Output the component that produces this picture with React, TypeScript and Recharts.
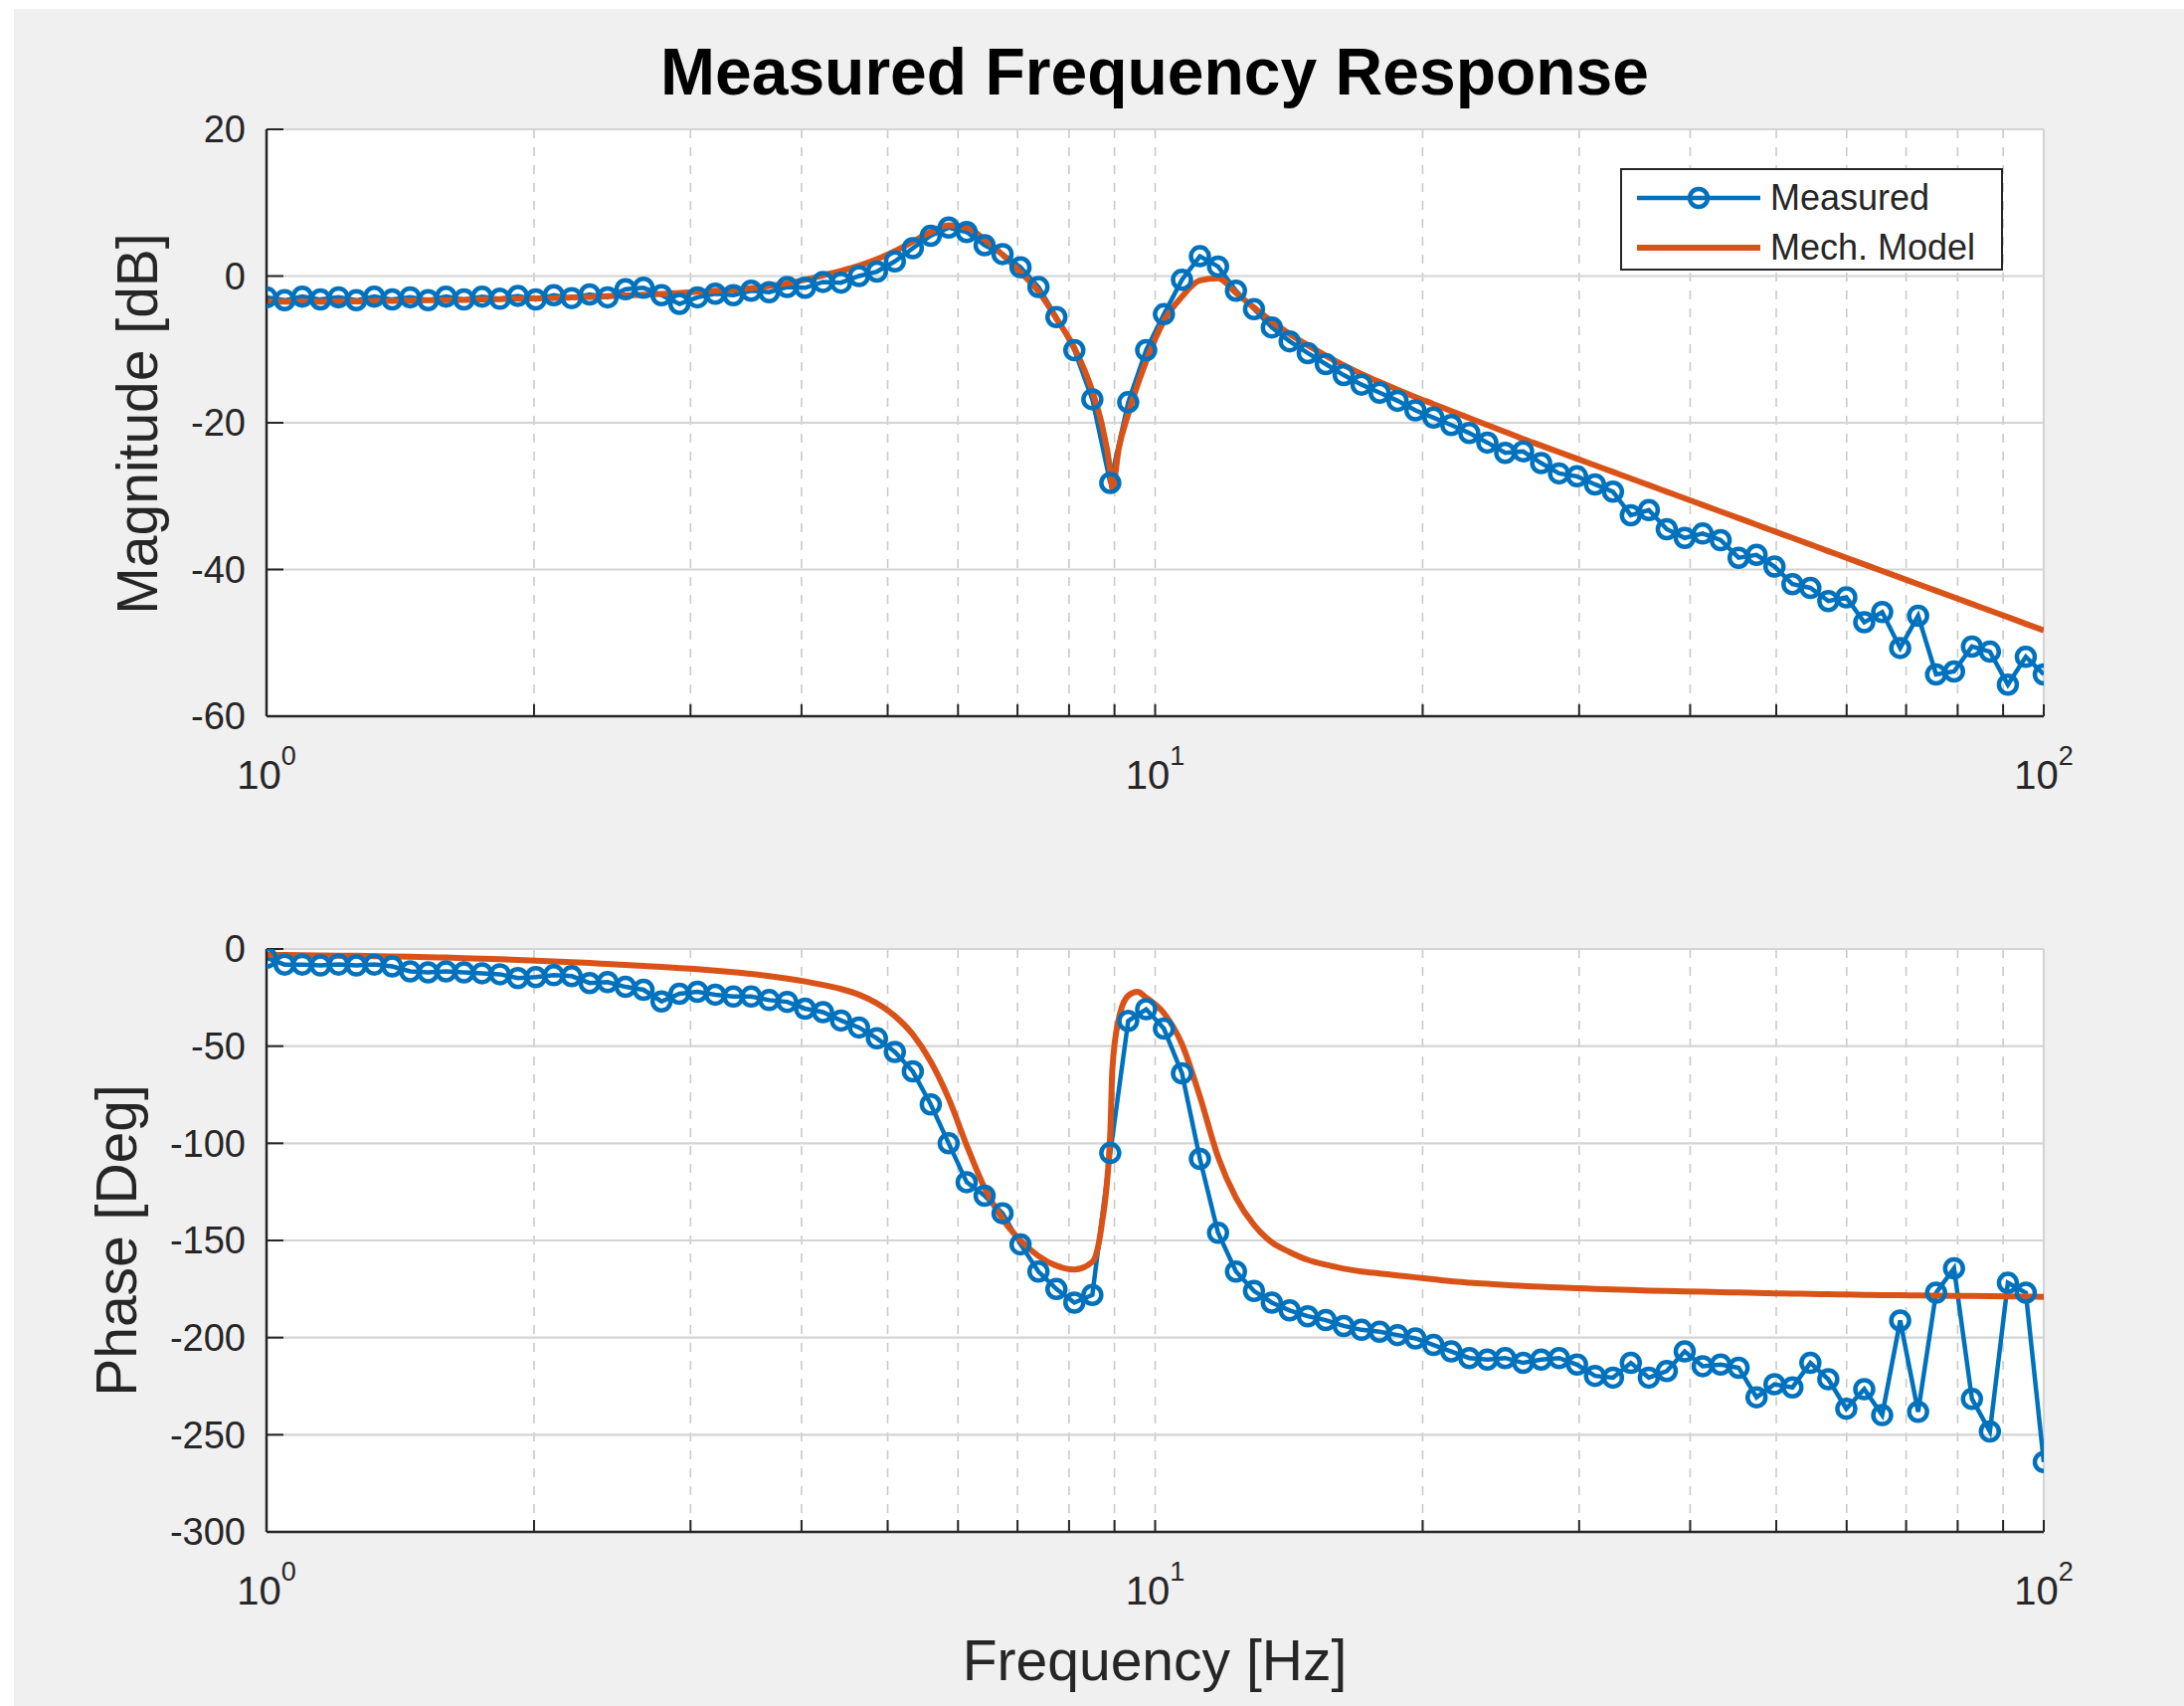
import { CartesianGrid, Legend, Line, LineChart, XAxis, YAxis } from 'recharts'

// measurement frequencies (Hz), 100 log-spaced points from 1 to 100
const freq = [
  1.0, 1.048, 1.097, 1.15, 1.205, 1.262, 1.322, 1.385, 1.451, 1.52,
  1.592, 1.668, 1.748, 1.831, 1.918, 2.009, 2.105, 2.205, 2.31, 2.42,
  2.535, 2.656, 2.783, 2.915, 3.054, 3.199, 3.352, 3.511, 3.678, 3.854,
  4.037, 4.229, 4.431, 4.642, 4.863, 5.094, 5.337, 5.591, 5.857, 6.136,
  6.428, 6.734, 7.055, 7.391, 7.743, 8.111, 8.498, 8.902, 9.326, 9.77,
  10.23, 10.72, 11.23, 11.77, 12.33, 12.92, 13.53, 14.17, 14.85, 15.56,
  16.3, 17.07, 17.89, 18.74, 19.63, 20.57, 21.54, 22.57, 23.65, 24.77,
  25.95, 27.19, 28.48, 29.84, 31.26, 32.75, 34.3, 35.94, 37.65, 39.44,
  41.32, 43.29, 45.35, 47.51, 49.77, 52.14, 54.62, 57.22, 59.95, 62.8,
  65.79, 68.93, 72.21, 75.65, 79.25, 83.02, 86.97, 91.12, 95.45, 100.0,
]

// measured magnitude (dB)
const magMeasured = [
  -2.9, -3.3, -2.8, -3.2, -2.9, -3.3, -2.8, -3.2, -2.9, -3.3,
  -2.8, -3.2, -2.8, -3.1, -2.7, -3.2, -2.6, -3.0, -2.5, -2.9,
  -1.8, -1.6, -2.6, -3.8, -2.9, -2.4, -2.6, -2.0, -2.2, -1.5,
  -1.6, -0.8, -0.9, 0.0, 0.6, 2.0, 3.8, 5.5, 6.6, 6.0,
  4.2, 3.0, 1.2, -1.5, -5.6, -10.1, -16.8, -28.2, -17.2, -10.1,
  -5.2, -0.5, 2.7, 1.3, -2.0, -4.5, -7.0, -8.9, -10.5, -12.0,
  -13.5, -14.8, -15.9, -17.0, -18.3, -19.3, -20.3, -21.4, -22.7, -24.1,
  -23.9, -25.5, -26.9, -27.3, -28.4, -29.4, -32.6, -31.9, -34.5, -35.7,
  -35.1, -36.0, -38.4, -38.0, -39.6, -42.0, -42.5, -44.3, -43.8, -47.2,
  -45.8, -50.7, -46.3, -54.3, -53.9, -50.5, -51.2, -55.7, -51.9, -54.3,
]

// measured phase (deg)
const phaseMeasured = [
  -4.5, -8, -8, -8.5, -8, -8.5, -8, -9, -11.5, -12,
  -11.5, -12, -12.5, -13, -15, -14.5, -13.5, -14, -17.5, -17,
  -19.5, -21, -27, -23, -22, -23.5, -24.5, -24.5, -26.3, -27.2,
  -30.7, -32.5, -36.8, -40.4, -46, -53, -63, -80, -100, -120,
  -127, -136, -152, -166, -175, -182, -178, -105, -37, -31,
  -41, -64, -108, -146, -166, -176, -182, -186, -189, -191,
  -194, -196, -197, -198.7, -200.4, -203.8, -207.1, -210.5, -211.3, -210.5,
  -213, -211.3, -210.5, -213.9, -219.7, -220.6, -213, -220.6, -217.2, -207.1,
  -214.7, -213.9, -215.5, -230.7, -224, -225.6, -213, -221.4, -236.6, -226.5,
  -239.9, -191.2, -238.2, -176.9, -164.3, -231.5, -248.3, -171.8, -176.9, -264,
]

// model curve, same grid plus a few extra samples around the notch
const modelFreq = [
  1.0, 1.048, 1.097, 1.15, 1.205, 1.262, 1.322, 1.385, 1.451, 1.52,
  1.592, 1.668, 1.748, 1.831, 1.918, 2.009, 2.105, 2.205, 2.31, 2.42,
  2.535, 2.656, 2.783, 2.915, 3.054, 3.199, 3.352, 3.511, 3.678, 3.854,
  4.037, 4.229, 4.431, 4.642, 4.863, 5.094, 5.337, 5.591, 5.857, 6.136,
  6.428, 6.734, 7.055, 7.391, 7.743, 8.111, 8.498, 8.7, 8.902, 8.95,
  9.1, 9.326, 9.55, 9.77,
  10.23, 10.72, 11.23, 11.77, 12.33, 12.92, 13.53, 14.17, 14.85, 15.56,
  16.3, 17.07, 17.89, 18.74, 19.63, 20.57, 21.54, 22.57, 23.65, 24.77,
  25.95, 27.19, 28.48, 29.84, 31.26, 32.75, 34.3, 35.94, 37.65, 39.44,
  41.32, 43.29, 45.35, 47.51, 49.77, 52.14, 54.62, 57.22, 59.95, 62.8,
  65.79, 68.93, 72.21, 75.65, 79.25, 83.02, 86.97, 91.12, 95.45, 100.0,
]

const magModel = [
  -3.5, -3.5, -3.5, -3.5, -3.45, -3.45, -3.4, -3.4, -3.35, -3.3,
  -3.3, -3.25, -3.2, -3.15, -3.1, -3.05, -3.0, -2.9, -2.85, -2.75,
  -2.65, -2.55, -2.45, -2.3, -2.15, -2.0, -1.85, -1.65, -1.35, -1.0,
  -0.5, 0.1, 0.7, 1.4, 2.3, 3.4, 4.7, 6.0, 6.9, 6.6,
  5.0, 2.9, 0.5, -2.1, -5.8, -9.8, -15.7, -20.0, -26.5, -29.0,
  -23.5, -18.8, -14.9, -11.6,
  -6.1, -2.8, -0.6, -0.3, -2.3, -4.3, -6.2, -7.9, -9.45, -10.85,
  -12.15, -13.35, -14.45, -15.5, -16.5, -17.45, -18.4, -19.35, -20.3, -21.25,
  -22.2, -23.1, -24.0, -24.9, -25.8, -26.7, -27.6, -28.5, -29.4, -30.3,
  -31.2, -32.1, -33.0, -33.9, -34.8, -35.7, -36.6, -37.5, -38.4, -39.3,
  -40.2, -41.1, -42.0, -42.9, -43.8, -44.7, -45.6, -46.5, -47.4, -48.3,
]

const phaseModel = [
  -3.0, -3.1, -3.2, -3.3, -3.4, -3.5, -3.7, -3.8, -4.0, -4.2,
  -4.4, -4.7, -5.0, -5.3, -5.6, -6.0, -6.4, -6.8, -7.2, -7.7,
  -8.2, -8.7, -9.2, -9.8, -10.4, -11.1, -11.9, -12.8, -13.9, -15.2,
  -16.7, -18.5, -20.6, -23.5, -28, -34.5, -44, -58, -77, -101,
  -123, -139, -150, -158, -163, -165, -161, -143, -95, -62,
  -36, -24, -22, -25,
  -33, -49, -76, -107, -128, -142, -151, -156, -160, -162.5,
  -164.5, -166, -167, -168, -169, -170, -171, -171.7, -172.3, -172.9,
  -173.4, -173.8, -174.2, -174.6, -174.9, -175.2, -175.5, -175.8, -176.0, -176.2,
  -176.4, -176.6, -176.8, -177.0, -177.2, -177.4, -177.5, -177.7, -177.8, -178.0,
  -178.1, -178.2, -178.3, -178.4, -178.5, -178.6, -178.7, -178.8, -178.9, -179.0,
]

const xTicks = [1, 2, 3, 4, 5, 6, 7, 8, 9, 10, 20, 30, 40, 50, 60, 70, 80, 90, 100]
const xMajorTicks = [10]
const magTicks = [-60, -40, -20, 0, 20]
const phaseTicks = [-300, -250, -200, -150, -100, -50, 0]

const BLUE = '#0072BD'
const ORANGE = '#D95319'
const INK = '#262626'
const FONT = "'Liberation Sans', Arial, Helvetica, sans-serif"

const toPoints = (xs: number[], ys: number[]) => xs.map((f, i) => ({ f, v: ys[i] }))

// 10^n labels on the log axis, blank for the minor ticks
function PowerTick(props: any) {
  const { x, y, payload } = props
  const exp = [1, 10, 100].indexOf(payload.value)
  if (exp < 0) return <g />
  return (
    <text x={x} y={y + 73} textAnchor="middle" fill={INK} fontFamily={FONT} fontSize={40}>
      10
      <tspan dy={-24} fontSize={27}>
        {exp}
      </tspan>
    </text>
  )
}

function LegendBox(props: any) {
  const items = props.payload ?? []
  return (
    <svg width={385} height={103} style={{ display: 'block' }}>
      <rect x={1} y={1} width={383} height={101} fill="#fff" stroke={INK} strokeWidth={2} />
      {items.map((item: any, i: number) => {
        const cy = 30 + i * 50
        return (
          <g key={item.value}>
            <line x1={17} x2={141} y1={cy} y2={cy} stroke={item.color} strokeWidth={i === 0 ? 4.5 : 6} />
            {i === 0 && <circle cx={79} cy={cy} r={9} fill="none" stroke={item.color} strokeWidth={4.5} />}
            <text x={151} y={cy + 12} fontSize={36} fill={INK} fontFamily={FONT}>
              {item.value}
            </text>
          </g>
        )
      })}
    </svg>
  )
}

type Pt = { f: number; v: number }

type PanelProps = {
  top: number
  height: number
  marginTop: number
  measured: Pt[]
  model: Pt[]
  domain: [number, number]
  ticks: number[]
  legend?: boolean
}

const axisLine = { stroke: INK, strokeWidth: 2.5 }
const tickLine = { stroke: INK, strokeWidth: 2 }

function BodePanel({ top, height, marginTop, measured, model, domain, ticks, legend }: PanelProps) {
  return (
    <div style={{ position: 'absolute', left: 0, top }}>
      <LineChart width={2196} height={height} margin={{ top: marginTop, right: 141, bottom: 0, left: 0 }}>
        <CartesianGrid
          xAxisId="x"
          yAxisId="y"
          horizontal={false}
          fill="#fff"
          stroke="#cacaca"
          strokeWidth={1.6}
          strokeDasharray="9 9"
        />
        <CartesianGrid xAxisId="major" yAxisId="y" stroke="#d4d4d4" strokeWidth={2.2} />
        <XAxis
          xAxisId="x"
          dataKey="f"
          type="number"
          scale="log"
          domain={[1, 100]}
          allowDataOverflow
          ticks={xTicks}
          interval={0}
          height={80}
          tickSize={-12}
          tickMargin={12}
          tick={<PowerTick />}
          axisLine={axisLine}
          tickLine={tickLine}
        />
        <XAxis
          xAxisId="top"
          orientation="top"
          type="number"
          scale="log"
          domain={[1, 100]}
          allowDataOverflow
          ticks={xTicks}
          interval={0}
          height={0}
          tickSize={-12}
          tick={false}
          axisLine={axisLine}
          tickLine={tickLine}
        />
        <XAxis
          xAxisId="major"
          type="number"
          scale="log"
          domain={[1, 100]}
          allowDataOverflow
          ticks={xMajorTicks}
          height={0}
          axisLine={false}
          tickLine={false}
          tick={false}
        />
        <YAxis
          yAxisId="y"
          type="number"
          domain={domain}
          allowDataOverflow
          ticks={ticks}
          interval={0}
          width={268}
          tickSize={-17}
          tickMargin={38}
          tick={{ fill: INK, fontSize: 38, fontFamily: FONT }}
          axisLine={axisLine}
          tickLine={tickLine}
        />
        <YAxis
          yAxisId="right"
          orientation="right"
          type="number"
          domain={domain}
          allowDataOverflow
          ticks={ticks}
          interval={0}
          width={0}
          tickSize={-17}
          tick={false}
          axisLine={axisLine}
          tickLine={tickLine}
        />
        <Line
          xAxisId="x"
          yAxisId="y"
          data={measured}
          dataKey="v"
          name="Measured"
          type="linear"
          stroke={BLUE}
          strokeWidth={4.5}
          dot={{ r: 9, fill: 'none', stroke: BLUE, strokeWidth: 4.5 }}
          isAnimationActive={false}
        />
        <Line
          xAxisId="x"
          yAxisId="y"
          data={model}
          dataKey="v"
          name="Mech. Model"
          type="monotone"
          stroke={ORANGE}
          strokeWidth={6}
          dot={false}
          isAnimationActive={false}
        />
        {legend && (
          <Legend
            layout="vertical"
            align="center"
            verticalAlign="middle"
            content={<LegendBox />}
            wrapperStyle={{ left: 1629, top: 169, width: 385, height: 103 }}
          />
        )}
      </LineChart>
    </div>
  )
}

export default function App() {
  return (
    <div
      style={{
        position: 'absolute',
        left: 0,
        top: 0,
        width: 2196,
        height: 1715,
        background: '#fff',
        fontFamily: FONT,
        overflow: 'hidden',
      }}
    >
      <div style={{ position: 'absolute', left: 14, top: 9, right: 0, bottom: 0, background: '#f0f0f0' }} />
      <BodePanel
        top={0}
        height={800}
        marginTop={130}
        measured={toPoints(freq, magMeasured)}
        model={toPoints(modelFreq, magModel)}
        domain={[-60, 20]}
        ticks={magTicks}
        legend
      />
      <BodePanel
        top={800}
        height={820}
        marginTop={154}
        measured={toPoints(freq, phaseMeasured)}
        model={toPoints(modelFreq, phaseModel)}
        domain={[-300, 0]}
        ticks={phaseTicks}
      />
      <svg
        width={2196}
        height={1715}
        style={{ position: 'absolute', left: 0, top: 0, pointerEvents: 'none' }}
        fontFamily={FONT}
      >
        <text x={1161} y={95} textAnchor="middle" fontSize={66} fontWeight="bold" fill="#000">
          Measured Frequency Response
        </text>
        <text x={1161} y={1689} textAnchor="middle" fontSize={57} fill={INK}>
          Frequency [Hz]
        </text>
        <text transform="translate(158 426) rotate(-90)" textAnchor="middle" fontSize={57} fill={INK}>
          Magnitude [dB]
        </text>
        <text transform="translate(137 1247) rotate(-90)" textAnchor="middle" fontSize={57} fill={INK}>
          Phase [Deg]
        </text>
      </svg>
    </div>
  )
}
